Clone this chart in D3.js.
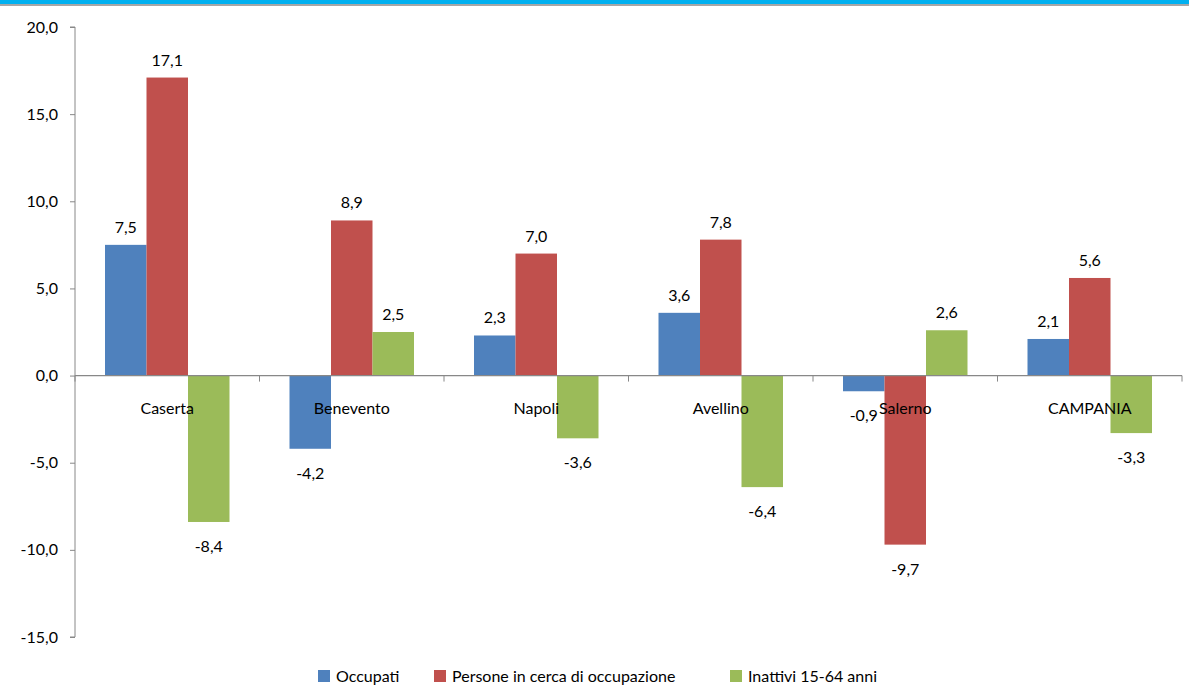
<!DOCTYPE html>
<html><head><meta charset="utf-8">
<script src="https://cdn.jsdelivr.net/npm/d3@7"></script>
<style>body{margin:0;background:#fff;} text{font-family:Lato,"Open Sans",sans-serif;}</style>
</head><body>
<svg id="c" width="1189" height="691"></svg>
<script>
const categories = ["Caserta","Benevento","Napoli","Avellino","Salerno","CAMPANIA"];
const seriesNames = ["Occupati","Persone in cerca di occupazione","Inattivi 15-64 anni"];
const occupati = [7.5,-4.2,2.3,3.6,-0.9,2.1];
const persone = [17.1,8.9,7.0,7.8,-9.7,5.6];
const inattivi = [-8.4,2.5,-3.6,-6.4,2.6,-3.3];
const colors = ["#4F81BD","#C0504D","#9BBB59"];
const yTicks = [20,15,10,5,0,-5,-10,-15];

const series = [occupati, persone, inattivi];
const svg = d3.select("#c");
const fmt = v => v.toFixed(1).replace(".", ",");

svg.append("rect").attr("x",0).attr("y",0).attr("width",1189).attr("height",4).attr("fill","#00B0F0");
svg.append("rect").attr("x",0).attr("y",4).attr("width",1189).attr("height",2).attr("fill","#A6A6A6");

const x0 = d3.scaleBand().domain(categories).range([75,1182]).paddingInner(0).paddingOuter(0);
const x1 = d3.scaleBand().domain([0,1,2]).range([30, x0.bandwidth()-30]).padding(0);
const y = d3.scaleLinear().domain([-15,20]).range([637,27]);

// y axis
const yAx = svg.append("g").attr("transform","translate(75,0)")
  .call(d3.axisLeft(y).tickValues(yTicks).tickSize(5).tickPadding(6).tickFormat(fmt));
yAx.select(".domain").attr("stroke","#888").attr("d","M-5,27H0V637H-5");
yAx.selectAll(".tick line").attr("stroke","#888");
yAx.selectAll("text").attr("font-size",16).attr("fill","#000").attr("dx",-6);

// bars
const g = svg.append("g");
categories.forEach((c,i)=>{
  series.forEach((s,k)=>{
    const v = s[i];
    const bx = x0(c)+x1(k);
    g.append("rect").attr("x",bx).attr("width",x1.bandwidth())
      .attr("y",y(Math.max(0,v))).attr("height",Math.abs(y(v)-y(0)))
      .attr("fill",colors[k]);
  });
});

// x axis at zero
const xAx = svg.append("g").attr("transform",`translate(0,${y(0)})`);
xAx.append("line").attr("x1",75).attr("x2",1182).attr("stroke","#888").attr("stroke-width",1.3);
const ticksX = categories.map(c=>x0(c)).concat([x0.range()[1]]);
ticksX.forEach(t=> xAx.append("line").attr("x1",t).attr("x2",t).attr("y1",0).attr("y2",6).attr("stroke","#888"));
categories.forEach(c=>{
  xAx.append("text").attr("x",x0(c)+x0.bandwidth()/2).attr("y",38).attr("text-anchor","middle")
    .attr("font-size",16).attr("fill","#000").text(c);
});

// value labels
categories.forEach((c,i)=>{
  series.forEach((s,k)=>{
    const v = s[i];
    const cx = x0(c)+x1(k)+x1.bandwidth()/2;
    const ly = v>=0 ? y(v)-12 : y(v)+30;
    svg.append("text").attr("x",cx).attr("y",ly).attr("text-anchor","middle")
      .attr("font-size",16).attr("fill","#000").text(fmt(v));
  });
});

// legend
const legX = [318,434,730];
seriesNames.forEach((n,k)=>{
  svg.append("rect").attr("x",legX[k]).attr("y",670).attr("width",12).attr("height",12).attr("fill",colors[k]);
  svg.append("text").attr("x",legX[k]+18).attr("y",682).attr("font-size",16).attr("fill","#000").text(n);
});
</script>
</body></html>
